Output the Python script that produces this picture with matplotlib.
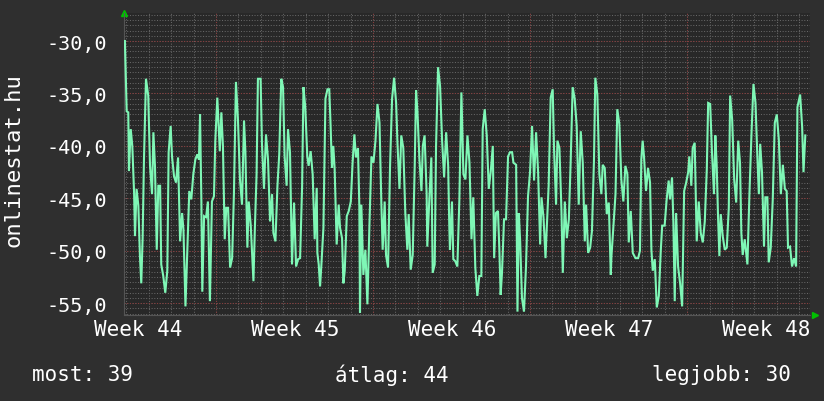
import numpy as np
import matplotlib
matplotlib.use('Agg')
import matplotlib.pyplot as plt

# time in days from left edge of graph, signal value
days = [0.04, 0.12, 0.19, 0.22, 0.30, 0.37, 0.45, 0.49, 0.56, 0.64, 0.71, 0.77, 0.83, 0.89, 0.98,
        1.08, 1.16, 1.25, 1.31, 1.38, 1.46, 1.53, 1.61, 1.66, 1.75, 1.84, 1.93, 1.99, 2.08, 2.14,
        2.23, 2.32, 2.41, 2.50, 2.59, 2.65, 2.74, 2.82, 2.91, 3.00, 3.09, 3.18, 3.27, 3.34, 3.39,
        3.45, 3.49, 3.57, 3.66, 3.74, 3.83, 3.92, 4.01, 4.07, 4.16,
        4.27, 4.34, 4.41, 4.49, 4.56, 4.64, 4.73, 4.82, 4.90, 4.99, 5.08, 5.17, 5.26, 5.35, 5.41,
        5.50, 5.56, 5.65, 5.77, 5.83, 5.91, 5.97, 6.09, 6.15, 6.24, 6.33, 6.42, 6.51, 6.60, 6.66,
        6.75, 6.84, 6.92, 7.01, 7.09, 7.16, 7.25, 7.31, 7.40, 7.49, 7.58, 7.67, 7.76, 7.85, 7.94,
        8.00, 8.08, 8.17, 8.23, 8.32, 8.41, 8.50, 8.59,
        8.62, 8.68, 8.74, 8.80, 8.89, 8.98, 9.07, 9.15, 9.21, 9.27, 9.33, 9.39, 9.48, 9.57, 9.63,
        9.72, 9.78, 9.84, 9.93, 10.02, 10.11, 10.19, 10.27, 10.34, 10.43, 10.49, 10.52, 10.58, 10.67,
        10.76, 10.85, 10.94, 11.03, 11.12, 11.21, 11.30, 11.39, 11.47, 11.53, 11.62, 11.68, 11.77,
        11.86, 11.95, 12.04, 12.13, 12.19, 12.28, 12.36, 12.45, 12.54, 12.63, 12.69, 12.78, 12.87,
        12.96, 13.02,
        13.08, 13.17, 13.26, 13.32, 13.40, 13.49, 13.52, 13.61, 13.70, 13.76, 13.85, 13.91, 14.00,
        14.09, 14.18, 14.27, 14.36, 14.45, 14.50, 14.53, 14.62, 14.68, 14.77, 14.86, 14.95, 15.04,
        15.13, 15.22, 15.31, 15.40, 15.49, 15.57, 15.66, 15.75, 15.84, 15.93, 15.99, 16.08, 16.17,
        16.26, 16.35, 16.44, 16.50, 16.58, 16.67, 16.73, 16.79, 16.85, 16.94, 17.03, 17.12, 17.21,
        17.30, 17.36,
        17.48, 17.54, 17.60, 17.66, 17.74, 17.83, 17.92, 18.01, 18.10, 18.19, 18.28, 18.37, 18.46,
        18.55, 18.61, 18.70, 18.79, 18.84, 18.93, 19.02, 19.11, 19.17, 19.26, 19.32, 19.41, 19.50,
        19.56, 19.65, 19.74, 19.83, 19.91, 20.00, 20.09, 20.18, 20.27, 20.36, 20.45, 20.54, 20.60,
        20.69, 20.78, 20.86, 20.95, 21.01, 21.10, 21.19, 21.28, 21.34, 21.43, 21.52, 21.61, 21.70,
        21.73, 21.82, 21.91, 21.99, 22.08, 22.17, 22.26, 22.35, 22.44, 22.50, 22.59, 22.68, 22.80,
        22.92, 23.00, 23.06, 23.12, 23.18, 23.27, 23.36, 23.45, 23.51, 23.57, 23.66, 23.75, 23.84,
        23.93, 23.99, 24.10, 24.19, 24.28, 24.34, 24.43, 24.49, 24.55, 24.61, 24.70, 24.79, 24.88,
        24.97, 25.06, 25.15, 25.20, 25.29, 25.35, 25.44, 25.53, 25.62, 25.71, 25.80, 25.89, 25.98,
        26.04,
        26.13, 26.21, 26.30, 26.36, 26.42, 26.48, 26.54, 26.60, 26.69, 26.78, 26.87, 26.96, 27.02,
        27.11, 27.20, 27.29, 27.38, 27.46, 27.52, 27.58, 27.67, 27.79, 27.88, 27.97, 28.06, 28.15,
        28.24, 28.30, 28.36, 28.44, 28.53, 28.59, 28.68, 28.74, 28.83, 28.92, 29.01, 29.10, 29.19,
        29.28, 29.37, 29.46, 29.54, 29.60, 29.69, 29.78, 29.87, 29.96, 30.02, 30.14, 30.23, 30.29,
        30.37]
signal = [-30.0, -36.7, -36.8, -42.4, -38.4, -40.0, -44.5, -48.6, -44.1, -45.7, -50.5, -53.1, -48.8, -41.3, -33.6,
          -35.2, -41.9, -44.6, -38.7, -41.9, -49.9, -43.8, -43.8, -51.3, -52.4, -54.0, -51.9, -40.6, -38.1, -41.0,
          -42.9, -43.5, -41.1, -49.1, -46.4, -48.0, -55.3, -50.2, -44.3, -45.1, -42.7, -41.3, -40.8, -41.3, -37.0,
          -45.4, -53.9, -46.7, -46.8, -45.3, -54.8, -45.3, -44.8, -39.5, -35.4,
          -40.5, -36.8, -40.0, -48.9, -45.9, -45.9, -51.6, -50.7, -44.6, -33.9, -37.5, -43.2, -45.6, -37.6, -40.5,
          -49.7, -45.3, -47.6, -52.9, -48.1, -42.7, -33.6, -33.6, -39.8, -44.1, -38.9, -41.3, -47.2, -44.6, -48.3,
          -49.1, -43.8, -40.8, -33.6, -34.4, -41.0, -43.8, -38.4, -40.6, -51.3, -45.4, -51.5, -50.8, -50.7, -43.8,
          -34.4, -36.3, -41.0, -41.9, -40.5, -42.7, -48.9, -44.0,
          -50.2, -51.3, -53.4, -51.3, -47.8, -35.5, -34.6, -34.6, -38.1, -42.1, -40.0, -42.2, -49.4, -45.6, -47.8,
          -48.8, -53.1, -51.9, -46.7, -46.2, -45.3, -41.6, -38.9, -41.1, -40.2, -45.7, -55.9, -45.6, -52.3,
          -49.9, -55.1, -47.6, -41.0, -41.6, -39.5, -36.0, -37.8, -45.3, -49.9, -45.3, -50.4, -51.6,
          -41.9, -35.5, -33.5, -35.9, -39.7, -44.1, -39.0, -40.2, -46.4, -49.9, -46.5, -51.8, -50.4,
          -41.8, -34.7,
          -36.7, -41.3, -44.3, -40.0, -39.0, -44.5, -49.6, -45.1, -41.1, -52.1, -51.3, -40.0, -32.5,
          -34.3, -39.5, -43.0, -38.7, -41.9, -47.6, -49.9, -45.3, -50.8, -51.0, -51.5, -45.1, -34.9,
          -42.7, -43.2, -39.0, -41.6, -48.9, -44.9, -51.6, -54.3, -52.4, -52.4, -38.4, -36.5, -39.0,
          -44.1, -42.4, -40.0, -50.7, -46.4, -46.2, -49.7, -54.2, -52.1, -47.0, -47.0, -41.0, -40.6,
          -40.6, -41.6,
          -41.8, -55.8, -46.4, -49.1, -54.5, -55.8, -51.5, -44.8, -42.5, -38.1, -43.3, -38.7, -42.5,
          -49.4, -44.9, -46.8, -50.7, -48.1, -43.8, -35.4, -34.6, -40.3, -45.6, -39.5, -40.2, -46.1,
          -52.1, -45.3, -48.8, -47.0, -41.6, -34.4, -35.5, -38.1, -45.6, -38.6, -41.6, -49.1, -45.6,
          -50.2, -49.7, -48.1, -41.4, -33.5, -35.1, -42.7, -44.6, -41.8, -42.1, -46.5, -45.4, -52.3,
          -50.5, -47.5, -44.6, -36.5, -37.9, -43.2, -45.3, -41.9, -42.7, -49.2, -46.2, -50.2, -50.7,
          -50.7, -50.0, -41.3, -39.5, -41.0, -44.3, -42.1, -43.5, -49.9, -51.9, -50.8, -55.4, -54.3,
          -49.9, -47.6, -47.6, -45.1, -43.3, -45.1, -43.0, -47.3, -54.8, -46.4, -51.5, -53.1, -55.3,
          -44.3, -43.5, -42.5, -41.0, -43.8, -40.2, -39.7, -49.1, -45.3, -48.3, -49.2, -47.2, -42.2,
          -35.9,
          -36.0, -40.6, -44.6, -39.0, -41.8, -46.7, -50.5, -46.5, -48.6, -49.9, -49.7, -45.9, -35.2,
          -37.5, -43.2, -45.4, -39.5, -41.6, -48.3, -50.4, -48.9, -51.3, -44.6, -38.9, -34.1, -35.9,
          -41.4, -44.6, -39.8, -42.5, -49.6, -44.9, -44.9, -51.1, -49.7, -45.1, -37.8, -37.0, -39.4,
          -44.6, -41.8, -44.1, -44.3, -49.7, -49.6, -51.5, -50.7, -51.5, -36.3, -35.1, -38.2, -42.5,
          -39.0]

week_pos = [0.62, 7.62, 14.62, 21.62, 28.62]
week_labels = ['Week 44', 'Week 45', 'Week 46', 'Week 47', 'Week 48']
yticks = [-30, -35, -40, -45, -50, -55]
ytick_labels = ['-30,0', '-35,0', '-40,0', '-45,0', '-50,0', '-55,0']

bg = '#2f2f2f'
plotbg = '#282828'
mono = 'DejaVu Sans Mono'

fig = plt.figure(figsize=(8.24, 4.02), dpi=100, facecolor=bg)
ax = fig.add_axes([124/824, 86/402, 686/824, 302/402], facecolor=plotbg)

xmax = 30.58
ax.set_xlim(0, xmax)
ax.set_ylim(-56.12, -27.33)

# grid, rrdtool style
for d in np.arange(0.1, xmax, 1.0):
    ax.axvline(d, color='#666666', lw=0.75, ls=(0, (1, 1.6)), zorder=1)
for d in np.arange(4.1, xmax, 7.0):
    ax.axvline(d, color='#8a3a3a', lw=0.75, ls=(0, (1, 1.6)), zorder=1)
for v in np.arange(-56.0, -27.3, 0.5):
    ax.axhline(v, color='#666666', lw=0.75, ls=(0, (1, 1.6)), zorder=1)
for v in yticks:
    ax.axhline(v, color='#8a3a3a', lw=0.75, ls=(0, (1, 1.6)), zorder=1)

ax.plot(days, signal, color='#7ff7b6', lw=1.5, zorder=3, solid_joinstyle='miter')

for s in ['top', 'right']:
    ax.spines[s].set_visible(False)
for s in ['left', 'bottom']:
    ax.spines[s].set_color('#555555')
    ax.spines[s].set_linewidth(0.8)

ax.set_yticks(yticks)
ax.set_yticklabels(ytick_labels, family=mono, fontsize=14.5, color='white')
ax.set_xticks(week_pos)
ax.set_xticklabels(week_labels, family=mono, fontsize=15, color='white')
ax.tick_params(axis='y', length=0, pad=12)
ax.tick_params(axis='x', length=0, pad=3)

# small green arrows at axis ends
ax.plot([0], [1.0], marker='^', color='#00c000', ms=4, transform=ax.transAxes, clip_on=False)
ax.plot([1.007], [0], marker='>', color='#00c000', ms=4, transform=ax.transAxes, clip_on=False)

fig.text(14/824, 1 - 160/402, 'onlinestat.hu', rotation=90, family=mono, fontsize=16,
         color='white', ha='center', va='center')

fig.text(32/824, 1 - 375/402, 'most: 39', family=mono, fontsize=15, color='white', ha='left', va='center')
fig.text(392/824, 1 - 375/402, 'átlag: 44', family=mono, fontsize=15, color='white', ha='center', va='center')
fig.text(791/824, 1 - 375/402, 'legjobb: 30', family=mono, fontsize=15, color='white', ha='right', va='center')

fig.savefig('out.png', dpi=100, facecolor=bg)
